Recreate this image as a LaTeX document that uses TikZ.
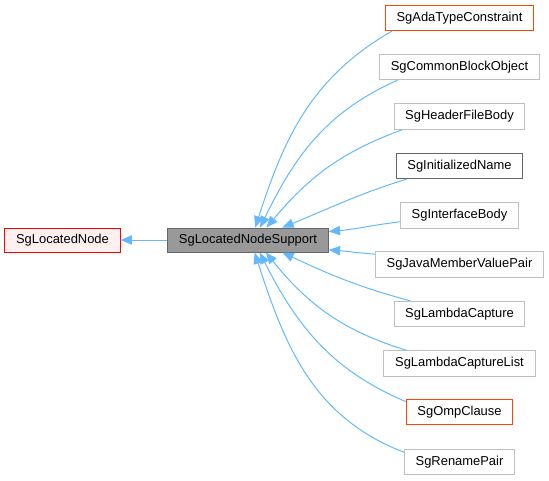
\documentclass[tikz,border=0pt]{standalone}
\usepackage{fontspec}
\setmainfont{Liberation Sans}
\usetikzlibrary{arrows.meta}
\definecolor{edgeblue}{HTML}{63B8FF}
\definecolor{boxgrey}{HTML}{BFBFBF}
\definecolor{darkgrey}{HTML}{666666}
\definecolor{orangeline}{HTML}{FF4500}

\begin{document}
\begin{tikzpicture}[x=0.75pt, y=0.75pt,
    box/.style={draw=boxgrey, line width=0.75pt, fill=white, inner xsep=8.4pt, inner ysep=0pt,
      minimum height=19pt, text height=7pt, text depth=2pt, font=\fontsize{9.7}{11}\selectfont},
    edge/.style={draw=edgeblue, line width=0.75pt, -{Triangle[length=8.5pt, width=7pt]}}]
  \useasboundingbox (0,0) rectangle (549,-480);

  % base classes
  \node[box, draw=red, fill={rgb,255:red,255;green,240;blue,240}, minimum height=18pt] (locnode) at (62.5,-240) {SgLocatedNode};
  \node[box, draw=darkgrey, fill={rgb,255:red,153;green,153;blue,153}, minimum height=18pt] (support) at (248,-240) {SgLocatedNodeSupport};
  \draw[edge] (support) -- (locnode);

  % derived classes
  \node[box, draw=orangeline] (ada) at (459.5,-18) {SgAdaTypeConstraint};
  \node[box] (common) at (459.5,-67) {SgCommonBlockObject};
  \node[box] (header) at (459.5,-116.5) {SgHeaderFileBody};
  \node[box, draw=darkgrey] (initname) at (459.5,-166) {SgInitializedName};
  \node[box] (interface) at (459.5,-215.5) {SgInterfaceBody};
  \node[box] (javapair) at (459.5,-264.5) {SgJavaMemberValuePair};
  \node[box] (lambda) at (459.5,-314) {SgLambdaCapture};
  \node[box] (lambdalist) at (459.5,-363.5) {SgLambdaCaptureList};
  \node[box, draw=orangeline] (omp) at (459.5,-412) {SgOmpClause};
  \node[box] (rename) at (459.5,-462) {SgRenamePair};

  \draw[edge] (ada.191) to[out=210, in=72] (support.60);
  \draw[edge] (common.192) to[out=204, in=64] (support.46);
  \draw[edge] (header.193) to[out=200, in=50] (support.34);
  \draw[edge] (initname.194) to[out=197, in=22] (support.20);
  \draw[edge] (interface.186) to[out=187, in=5] (support.6);
  \draw[edge] (javapair.173) to[out=176, in=-4] (support.-7);
  \draw[edge] (lambda.165) to[out=165, in=-25] (support.-20);
  \draw[edge] (lambdalist.166) to[out=163, in=-51] (support.-35);
  \draw[edge] (omp.169) to[out=157, in=-63] (support.-47);
  \draw[edge] (rename.170) to[out=159, in=-72] (support.-62);
\end{tikzpicture}
\end{document}
